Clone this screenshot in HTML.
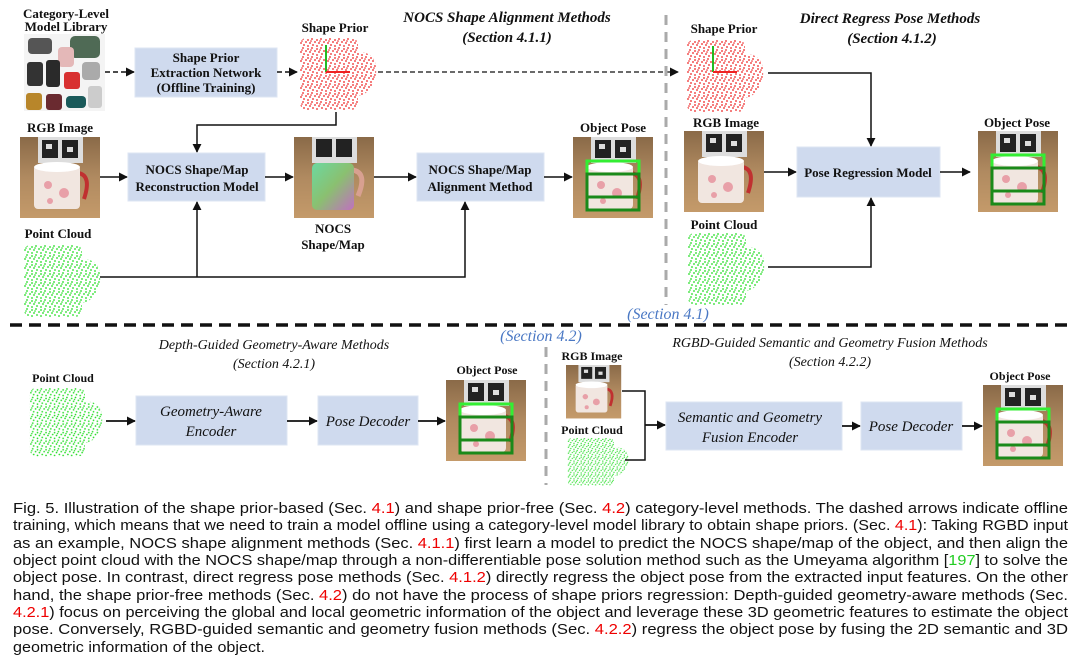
<!DOCTYPE html>
<html><head><meta charset="utf-8"><style>
html,body{margin:0;padding:0;background:#fff;}
svg{display:block;}
.t{font-family:"Liberation Serif",serif;font-weight:bold;fill:#111;}
.ti{font-family:"Liberation Serif",serif;font-style:italic;font-weight:bold;fill:#111;}
.tr{font-family:"Liberation Serif",serif;font-style:italic;fill:#111;}
.bl{font-family:"Liberation Serif",serif;font-style:italic;fill:#4a78c4;}
.cap{font-family:"Liberation Sans Narrow","Liberation Sans",sans-serif;font-size:15px;fill:#111;}
.r{fill:#e00;}
.g{fill:#2c2;}
.box{fill:#cfdaee;stroke:#dde5f3;stroke-width:1;}
</style></head><body>
<svg width="1080" height="663" viewBox="0 0 1080 663" xmlns="http://www.w3.org/2000/svg">
<defs>
<marker id="ah" viewBox="0 0 10 10" refX="9" refY="5" markerWidth="9" markerHeight="9" markerUnits="userSpaceOnUse" orient="auto"><path d="M0,0L10,5L0,10z" fill="#111"/></marker>
<pattern id="pr" width="9" height="9" patternUnits="userSpaceOnUse"><rect width="9" height="9" fill="#fff"/><circle cx="1" cy="2" r="0.9" fill="#e22"/><circle cx="5" cy="1" r="0.9" fill="#e22"/><circle cx="8" cy="4" r="0.9" fill="#e22"/><circle cx="3" cy="5" r="0.9" fill="#e22"/><circle cx="6" cy="7" r="0.9" fill="#e22"/><circle cx="1" cy="8" r="0.9" fill="#e22"/><circle cx="4" cy="3" r="0.8" fill="#e22"/></pattern>
<pattern id="pg" width="9" height="9" patternUnits="userSpaceOnUse"><rect width="9" height="9" fill="#fff"/><circle cx="1" cy="2" r="0.9" fill="#2d2"/><circle cx="5" cy="1" r="0.9" fill="#2d2"/><circle cx="8" cy="4" r="0.9" fill="#2d2"/><circle cx="3" cy="5" r="0.9" fill="#2d2"/><circle cx="6" cy="7" r="0.9" fill="#2d2"/><circle cx="1" cy="8" r="0.9" fill="#2d2"/><circle cx="4" cy="3" r="0.8" fill="#2d2"/></pattern>
<linearGradient id="bg" x1="0" y1="0" x2="0" y2="1"><stop offset="0" stop-color="#8a6a48"/><stop offset="0.5" stop-color="#b08a60"/><stop offset="1" stop-color="#c49a6a"/></linearGradient>
<linearGradient id="nc" x1="0" y1="0" x2="1" y2="1"><stop offset="0" stop-color="#6cd8a0"/><stop offset="0.5" stop-color="#8ac070"/><stop offset="1" stop-color="#c070c0"/></linearGradient>
<g id="photo">
<rect width="80" height="81" fill="url(#bg)"/>
<rect x="18" y="0" width="45" height="26" fill="#ddd"/>
<rect x="22" y="3" width="16" height="18" fill="#222"/><rect x="42" y="3" width="16" height="18" fill="#222"/>
<rect x="26" y="7" width="6" height="5" fill="#ddd"/><rect x="47" y="10" width="6" height="5" fill="#ddd"/>
<path d="M58,36 q14,2 6,26" fill="none" stroke="#c03030" stroke-width="4"/>
<rect x="14" y="28" width="46" height="44" rx="4" fill="#f1e6e0"/>
<ellipse cx="37" cy="30" rx="23" ry="5" fill="#fff"/>
<circle cx="28" cy="48" r="4" fill="#e8a0a8"/><circle cx="44" cy="56" r="5" fill="#e8a0a8"/><circle cx="30" cy="64" r="3" fill="#e8a0a8"/>
</g>
<g id="pose"><use href="#photo"/>
<rect x="14" y="24" width="52" height="13" fill="none" stroke="#3e3" stroke-width="3"/>
<rect x="14" y="37" width="52" height="36" fill="none" stroke="#1a8a1a" stroke-width="3"/>
<line x1="14" y1="60" x2="66" y2="60" stroke="#1a8a1a" stroke-width="3"/>
</g>
<g id="cloudR"><path d="M2,6 Q2,0 10,0 L52,0 Q60,0 60,6 L60,14 Q80,14 78,36 Q74,56 60,58 L60,64 Q60,72 52,72 L10,72 Q2,72 2,64 Z" fill="url(#pr)"/></g>
<g id="cloudG"><path d="M2,6 Q2,0 10,0 L52,0 Q60,0 60,6 L60,14 Q80,14 78,36 Q74,56 60,58 L60,64 Q60,72 52,72 L10,72 Q2,72 2,64 Z" fill="url(#pg)"/></g>
</defs>

<!-- TOP LEFT -->
<text class="t" x="66" y="18" font-size="13" text-anchor="middle">Category-Level</text>
<text class="t" x="66" y="31" font-size="13" text-anchor="middle">Model Library</text>
<rect x="24" y="34" width="81" height="77" fill="#f4f4f4"/>
<rect x="28" y="38" width="24" height="16" rx="4" fill="#555"/><rect x="70" y="36" width="30" height="22" rx="5" fill="#4f6a55"/>
<rect x="58" y="47" width="16" height="20" rx="4" fill="#e4b8b8"/>
<rect x="27" y="62" width="16" height="24" rx="3" fill="#333"/><rect x="46" y="60" width="14" height="27" rx="3" fill="#2a2a2a"/>
<rect x="64" y="72" width="16" height="17" rx="3" fill="#d83030"/><rect x="82" y="62" width="18" height="18" rx="4" fill="#aaa"/>
<rect x="26" y="93" width="16" height="17" rx="3" fill="#b8862a"/><rect x="46" y="94" width="16" height="16" rx="3" fill="#6a2a30"/>
<rect x="66" y="96" width="20" height="12" rx="4" fill="#1a5a5a"/><rect x="88" y="86" width="14" height="22" rx="3" fill="#ccc"/>
<line x1="105" y1="72" x2="134" y2="72" stroke="#111" stroke-width="1.5" stroke-dasharray="5,3" marker-end="url(#ah)"/>
<rect class="box" x="135" y="48" width="142" height="49"/>
<text class="t" x="206" y="62" font-size="13" text-anchor="middle">Shape Prior</text>
<text class="t" x="206" y="77" font-size="13" text-anchor="middle">Extraction Network</text>
<text class="t" x="206" y="92" font-size="13" text-anchor="middle">(Offline Training)</text>
<line x1="277" y1="72" x2="297" y2="72" stroke="#111" stroke-width="1.5" stroke-dasharray="5,3" marker-end="url(#ah)"/>
<text class="t" x="335" y="32" font-size="13" text-anchor="middle">Shape Prior</text>
<use href="#cloudR" x="298" y="38"/>
<line x1="326" y1="72" x2="326" y2="45" stroke="#2b2" stroke-width="2"/><line x1="326" y1="72" x2="350" y2="72" stroke="#e22" stroke-width="2"/>
<line x1="378" y1="72" x2="678" y2="72" stroke="#111" stroke-width="1.3" stroke-dasharray="5,3" marker-end="url(#ah)"/>
<text class="ti" x="507" y="22" font-size="15" text-anchor="middle">NOCS Shape Alignment Methods</text>
<text class="ti" x="507" y="42" font-size="15" text-anchor="middle">(Section 4.1.1)</text>
<polyline points="336,112 336,125 197,125 197,152" fill="none" stroke="#111" stroke-width="1.5" marker-end="url(#ah)"/>
<text class="t" x="60" y="132" font-size="13" text-anchor="middle">RGB Image</text>
<use href="#photo" x="20" y="137"/>
<line x1="100" y1="177" x2="127" y2="177" stroke="#111" stroke-width="1.5" marker-end="url(#ah)"/>
<rect class="box" x="128" y="153" width="137" height="48"/>
<text class="t" x="197" y="174" font-size="13" text-anchor="middle">NOCS Shape/Map</text>
<text class="t" x="197" y="191" font-size="13" text-anchor="middle">Reconstruction Model</text>
<line x1="265" y1="177" x2="293" y2="177" stroke="#111" stroke-width="1.5" marker-end="url(#ah)"/>
<rect x="294" y="137" width="80" height="81" fill="url(#bg)"/>
<rect x="312" y="137" width="45" height="26" fill="#ddd"/><rect x="316" y="139" width="16" height="18" fill="#222"/><rect x="336" y="139" width="16" height="18" fill="#222"/>
<path d="M352,170 q16,2 6,26" fill="none" stroke="#d8a090" stroke-width="5"/>
<rect x="312" y="163" width="42" height="47" rx="5" fill="url(#nc)"/>
<text class="t" x="333" y="233" font-size="13" text-anchor="middle">NOCS</text>
<text class="t" x="333" y="249" font-size="13" text-anchor="middle">Shape/Map</text>
<line x1="374" y1="177" x2="416" y2="177" stroke="#111" stroke-width="1.5" marker-end="url(#ah)"/>
<rect class="box" x="417" y="153" width="127" height="48"/>
<text class="t" x="480" y="174" font-size="13" text-anchor="middle">NOCS Shape/Map</text>
<text class="t" x="480" y="191" font-size="13" text-anchor="middle">Alignment Method</text>
<line x1="544" y1="177" x2="572" y2="177" stroke="#111" stroke-width="1.5" marker-end="url(#ah)"/>
<text class="t" x="613" y="132" font-size="13" text-anchor="middle">Object Pose</text>
<use href="#pose" x="573" y="137"/>
<text class="t" x="58" y="238" font-size="13" text-anchor="middle">Point Cloud</text>
<use href="#cloudG" x="22" y="245"/>
<polyline points="100,277 465,277 465,202" fill="none" stroke="#111" stroke-width="1.5" marker-end="url(#ah)"/>
<line x1="197" y1="277" x2="197" y2="202" stroke="#111" stroke-width="1.5" marker-end="url(#ah)"/>

<line x1="666" y1="15" x2="666" y2="305" stroke="#aaa" stroke-width="3" stroke-dasharray="10,7"/>

<!-- TOP RIGHT -->
<text class="ti" x="890" y="23" font-size="15" text-anchor="middle">Direct Regress Pose Methods</text>
<text class="ti" x="892" y="43" font-size="15" text-anchor="middle">(Section 4.1.2)</text>
<text class="t" x="724" y="33" font-size="13" text-anchor="middle">Shape Prior</text>
<use href="#cloudR" x="685" y="40"/>
<line x1="713" y1="72" x2="713" y2="46" stroke="#2b2" stroke-width="2"/><line x1="713" y1="72" x2="737" y2="72" stroke="#e22" stroke-width="2"/>
<polyline points="768,73 871,73 871,146" fill="none" stroke="#111" stroke-width="1.5" marker-end="url(#ah)"/>
<text class="t" x="726" y="127" font-size="13" text-anchor="middle">RGB Image</text>
<use href="#photo" x="684" y="131"/>
<line x1="764" y1="172" x2="796" y2="172" stroke="#111" stroke-width="1.5" marker-end="url(#ah)"/>
<rect class="box" x="797" y="147" width="143" height="50"/>
<text class="t" x="868" y="177" font-size="13" text-anchor="middle">Pose Regression Model</text>
<line x1="940" y1="172" x2="970" y2="172" stroke="#111" stroke-width="1.5" marker-end="url(#ah)"/>
<text class="t" x="1017" y="127" font-size="13" text-anchor="middle">Object Pose</text>
<use href="#pose" x="978" y="131"/>
<text class="t" x="724" y="229" font-size="13" text-anchor="middle">Point Cloud</text>
<use href="#cloudG" x="686" y="233"/>
<polyline points="768,267 871,267 871,198" fill="none" stroke="#111" stroke-width="1.5" marker-end="url(#ah)"/>
<text class="bl" x="668" y="319" font-size="16" text-anchor="middle">(Section 4.1)</text>

<line x1="10" y1="325" x2="1072" y2="325" stroke="#111" stroke-width="3.5" stroke-dasharray="12,7"/>
<text class="bl" x="541" y="341" font-size="16" text-anchor="middle">(Section 4.2)</text>
<line x1="546" y1="347" x2="546" y2="485" stroke="#aaa" stroke-width="3" stroke-dasharray="10,7"/>

<!-- BOTTOM LEFT -->
<text class="tr" x="274" y="349" font-size="14" text-anchor="middle">Depth-Guided Geometry-Aware Methods</text>
<text class="tr" x="274" y="368" font-size="14" text-anchor="middle">(Section 4.2.1)</text>
<text class="t" x="63" y="382" font-size="12" text-anchor="middle">Point Cloud</text>
<g transform="translate(28,388) scale(0.95,0.95)"><use href="#cloudG"/></g>
<line x1="106" y1="421" x2="135" y2="421" stroke="#111" stroke-width="1.8" marker-end="url(#ah)"/>
<rect class="box" x="136" y="396" width="151" height="49"/>
<text class="tr" x="211" y="416" font-size="15" text-anchor="middle">Geometry-Aware</text>
<text class="tr" x="211" y="436" font-size="15" text-anchor="middle">Encoder</text>
<line x1="287" y1="421" x2="317" y2="421" stroke="#111" stroke-width="1.8" marker-end="url(#ah)"/>
<rect class="box" x="318" y="396" width="100" height="49"/>
<text class="tr" x="368" y="426" font-size="15" text-anchor="middle">Pose Decoder</text>
<line x1="418" y1="421" x2="445" y2="421" stroke="#111" stroke-width="1.8" marker-end="url(#ah)"/>
<text class="t" x="487" y="374" font-size="12" text-anchor="middle">Object Pose</text>
<use href="#pose" x="446" y="380"/>

<!-- BOTTOM RIGHT -->
<text class="tr" x="830" y="347" font-size="14" text-anchor="middle">RGBD-Guided Semantic and Geometry Fusion Methods</text>
<text class="tr" x="830" y="366" font-size="14" text-anchor="middle">(Section 4.2.2)</text>
<text class="t" x="592" y="360" font-size="12" text-anchor="middle">RGB Image</text>
<g transform="translate(566,365) scale(0.69,0.66)"><use href="#photo"/></g>
<text class="t" x="592" y="434" font-size="12" text-anchor="middle">Point Cloud</text>
<g transform="translate(566,438) scale(0.8,0.66)"><use href="#cloudG"/></g>
<polyline points="622,391 645,391 645,460 625,460" fill="none" stroke="#111" stroke-width="1.5"/>
<line x1="645" y1="425" x2="665" y2="425" stroke="#111" stroke-width="1.8" marker-end="url(#ah)"/>
<rect class="box" x="666" y="402" width="176" height="48"/>
<text class="tr" x="750" y="422" font-size="15" text-anchor="middle">Semantic and Geometry</text>
<text class="tr" x="750" y="442" font-size="15" text-anchor="middle">Fusion Encoder</text>
<line x1="842" y1="426" x2="860" y2="426" stroke="#111" stroke-width="1.8" marker-end="url(#ah)"/>
<rect class="box" x="861" y="402" width="101" height="48"/>
<text class="tr" x="911" y="431" font-size="15" text-anchor="middle">Pose Decoder</text>
<line x1="962" y1="426" x2="982" y2="426" stroke="#111" stroke-width="1.8" marker-end="url(#ah)"/>
<text class="t" x="1020" y="380" font-size="12" text-anchor="middle">Object Pose</text>
<use href="#pose" x="983" y="385"/>

<!-- CAPTION -->
<text class="cap" x="13" y="513" textLength="1055" lengthAdjust="spacingAndGlyphs">Fig. 5. Illustration of the shape prior-based (Sec. <tspan class="r">4.1</tspan>) and shape prior-free (Sec. <tspan class="r">4.2</tspan>) category-level methods. The dashed arrows indicate offline</text>
<text class="cap" x="13" y="530" textLength="1055" lengthAdjust="spacingAndGlyphs">training, which means that we need to train a model offline using a category-level model library to obtain shape priors. (Sec. <tspan class="r">4.1</tspan>): Taking RGBD input</text>
<text class="cap" x="13" y="548" textLength="1055" lengthAdjust="spacingAndGlyphs">as an example, NOCS shape alignment methods (Sec. <tspan class="r">4.1.1</tspan>) first learn a model to predict the NOCS shape/map of the object, and then align the</text>
<text class="cap" x="13" y="565" textLength="1055" lengthAdjust="spacingAndGlyphs">object point cloud with the NOCS shape/map through a non-differentiable pose solution method such as the Umeyama algorithm [<tspan class="g">197</tspan>] to solve the</text>
<text class="cap" x="13" y="582" textLength="1055" lengthAdjust="spacingAndGlyphs">object pose. In contrast, direct regress pose methods (Sec. <tspan class="r">4.1.2</tspan>) directly regress the object pose from the extracted input features. On the other</text>
<text class="cap" x="13" y="600" textLength="1055" lengthAdjust="spacingAndGlyphs">hand, the shape prior-free methods (Sec. <tspan class="r">4.2</tspan>) do not have the process of shape priors regression: Depth-guided geometry-aware methods (Sec.</text>
<text class="cap" x="13" y="617" textLength="1055" lengthAdjust="spacingAndGlyphs"><tspan class="r">4.2.1</tspan>) focus on perceiving the global and local geometric information of the object and leverage these 3D geometric features to estimate the object</text>
<text class="cap" x="13" y="634" textLength="1055" lengthAdjust="spacingAndGlyphs">pose. Conversely, RGBD-guided semantic and geometry fusion methods (Sec. <tspan class="r">4.2.2</tspan>) regress the object pose by fusing the 2D semantic and 3D</text>
<text class="cap" x="13" y="652" textLength="252" lengthAdjust="spacingAndGlyphs">geometric information of the object.</text>
</svg>
</body></html>
